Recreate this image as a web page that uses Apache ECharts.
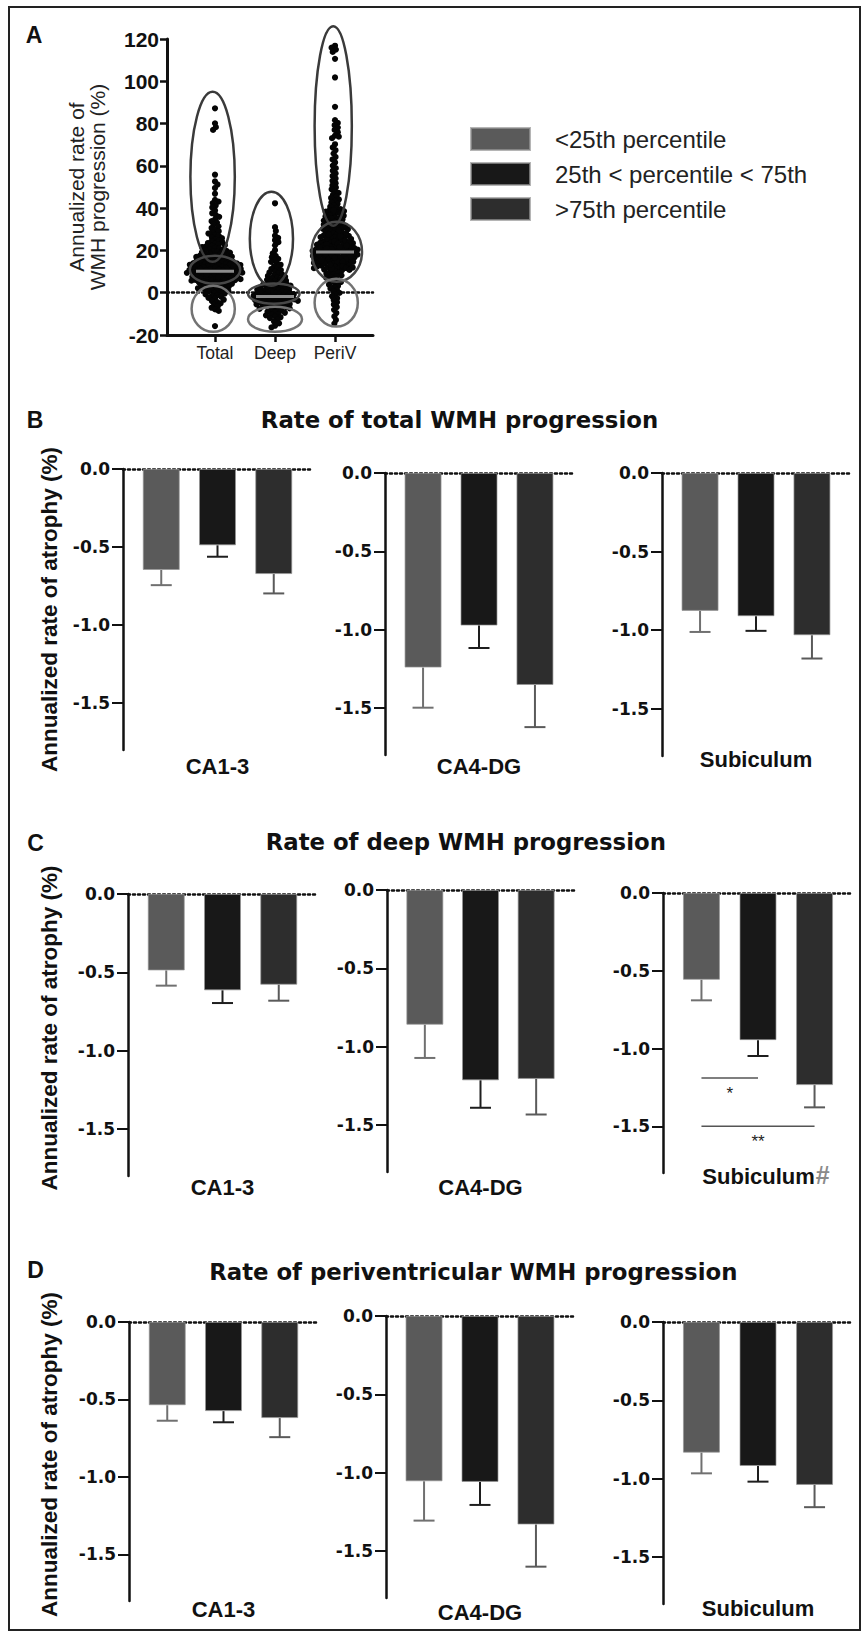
<!DOCTYPE html>
<html><head><meta charset="utf-8">
<script src="https://cdn.jsdelivr.net/npm/echarts@6/dist/echarts.min.js"></script>
<style>html,body{margin:0;padding:0;background:#fff}#c{width:863px;height:1633px}</style>
</head><body><div id="c"></div>
<script>
// ---------------- DATA ----------------
const wmhCategories = ['Total', 'Deep', 'PeriV'];
const wmhTicks = [-20, 0, 20, 40, 60, 80, 100, 120];

const totalRates = [87.2, 80.1, 78.3, 77.0, 55.8, 52.6, 51.2, 49.5, 46.8, 43.9, 43.1, 42.4, 41.2, 40.3, 38.9, 37.6, 36.8, 35.9, 34.7, 33.8, 33.1, 32.2, 31.4, 30.6, 29.8, 29.1,
  28.6, 28.0, 27.3, 26.9, 26.2, 25.8, 25.1, 24.7, 24.3, 23.9, 23.5, 23.2, 22.8, 22.5, 22.1, 21.9, 21.6, 21.2, 20.9, 20.6, 20.3, 20.1,
  19.8, 19.6, 19.3, 19.1, 18.9, 18.6, 18.4, 18.2, 17.9, 17.7, 17.5, 17.2, 17.0, 16.8, 16.6, 16.3, 16.1, 15.9, 15.7, 15.5, 15.2, 15.0,
  14.9, 14.7, 14.6, 14.4, 14.2, 14.1, 13.9, 13.7, 13.6, 13.4, 13.2, 13.1, 12.9, 12.7, 12.6, 12.4, 12.2, 12.1, 11.9, 11.8, 11.6, 11.4, 11.3, 11.1, 10.9, 10.8, 10.6, 10.5, 10.3, 10.1, 10.0,
  9.9, 9.7, 9.6, 9.4, 9.2, 9.1, 8.9, 8.8, 8.6, 8.4, 8.3, 8.1, 7.9, 7.8, 7.6, 7.5, 7.3, 7.1, 7.0, 6.8, 6.6, 6.5, 6.3, 6.1, 6.0, 5.8, 5.6, 5.5, 5.3, 5.1,
  4.9, 4.7, 4.4, 4.2, 3.9, 3.7, 3.4, 3.2, 2.9, 2.6, 2.4, 2.1, 1.8, 1.6, 1.3, 1.0, 0.8, 0.5, 0.2,
  -0.1, -0.4, -0.8, -1.1, -1.5, -1.9, -2.4, -2.8, -3.3, -3.9, -4.4, -5.0, -5.7, -6.3, -7.1, -7.9, -8.6, -15.8,
  16.9, 15.4, 14.0, 13.3, 12.5, 11.7, 11.2, 10.4, 9.5, 8.7, 7.4, 6.4, 5.7, 4.5, 3.6, 2.2];

const deepRates = [42.3, 31.0, 29.2, 27.0, 25.9, 24.8, 23.9, 22.4, 20.1, 18.6, 17.4, 16.8, 16.0, 15.3, 14.6, 13.8, 13.2, 12.5, 11.8, 11.2, 10.7, 10.1,
  9.6, 9.2, 8.7, 8.3, 7.9, 7.5, 7.1, 6.8, 6.4, 6.1, 5.7, 5.4, 5.1, 4.8, 4.5, 4.2, 3.9, 3.6, 3.8, 3.3, 3.0, 2.8, 2.6, 2.5, 2.2, 2.0, 1.7, 1.5, 1.4, 1.2, 1.0, 0.7, 0.5, 0.3, 0.2, 0.1,
  -0.1, -0.3, -0.5, -0.7, -0.9, -1.0, -1.1, -1.3, -1.5, -1.7, -1.9, -2.1, -2.2, -2.3, -2.5, -2.7, -2.9, -3.0, -3.1, -3.3, -3.5, -3.7, -3.8, -3.9,
  -4.1, -4.4, -4.5, -4.6, -4.9, -5.2, -5.3, -5.5, -5.8, -6.0, -6.1, -6.4, -6.6, -6.8, -7.2, -7.4, -7.6, -8.0, -8.2, -8.5, -9.0, -9.2, -9.5,
  -10.1, -10.4, -10.7, -11.3, -11.6, -12.0, -12.8, -13.6, -14.5, -15.6, -16.4];

const periVRates = [116.8, 115.9, 115.0, 113.9, 110.6, 101.8, 87.9, 81.6, 80.3, 79.2, 78.1, 77.0, 75.9, 74.3, 73.8, 73.1, 70.2, 68.7, 67.4, 65.8, 64.2, 63.0,
  61.6, 60.1, 58.9, 57.7, 56.4, 55.2, 54.0, 52.9, 51.8, 50.7, 49.8, 48.9, 48.0, 47.2, 46.4, 45.6, 44.8, 44.1, 43.4, 42.7, 42.0, 41.3, 40.7, 40.1,
  39.5, 38.9, 38.3, 37.8, 37.2, 36.7, 36.1, 35.6, 35.1, 34.6, 34.1, 33.6, 33.1, 32.6, 32.2, 31.7, 31.3, 30.8, 30.4, 30.0, 29.6, 29.2, 28.8, 28.4,
  28.0, 27.6, 27.2, 26.9, 26.5, 26.1, 25.8, 25.4, 25.1, 24.7, 24.4, 24.0, 23.7, 23.4, 23.0, 22.7, 22.4, 22.1, 21.8, 21.5, 21.2, 20.9, 20.6, 20.3,
  20.0, 19.7, 19.4, 19.1, 18.8, 18.5, 18.2, 17.9, 17.6, 17.3, 17.0, 16.7, 16.4, 16.1, 15.8, 15.5, 15.2, 14.9, 14.6, 14.3, 14.0, 13.7, 13.4, 13.1,
  12.8, 12.5, 12.2, 11.9, 11.6, 11.3, 11.0, 10.6, 10.2, 9.8, 9.4, 9.0, 8.6, 8.2, 7.8, 7.4, 7.0, 6.5, 6.0, 5.5, 5.0, 4.4, 3.8, 3.2, 2.6, 2.0, 1.3, 0.6,
  -0.1, -0.9, -1.7, -2.6, -3.5, -4.5, -5.6, -6.8, -8.1, -9.6, -11.2, -12.9, -14.6,
  28.2, 26.3, 24.2, 22.9, 21.0, 19.9, 18.0, 16.9, 15.0, 13.9, 12.0, 11.5,
  24.6, 23.8, 23.2, 22.2, 21.6, 20.8, 20.4, 19.8, 19.2, 18.6, 18.3, 17.7, 17.1, 16.5, 15.9, 15.3, 14.7, 14.1, 25.6, 26.7, 27.4, 13.3, 12.6, 11.7, 10.8,
  29.4, 30.6, 21.3, 19.5, 17.4, 39.0, 37.5, 36.4, 35.3, 34.3, 33.3, 32.4, 31.5, 30.2, 38.6];

const wmhMedians = [10.1, -1.8, 19.2];

// percentile ellipses: [category centre, low value, high value, half width (category units), tier]
const percentileEllipses = [
  [-0.04, 14.6, 95.0, 0.37, 0], [0.00, 4.3, 17.5, 0.42, 1], [-0.03, -18.5, 3.3, 0.36, 2],
  [0.94, 3.3, 47.8, 0.36, 0], [0.98, -5.2, 4.3, 0.43, 1], [1.00, -18.5, -6.6, 0.45, 2],
  [1.97, 31.7, 126.0, 0.31, 0], [2.03, 5.2, 33.6, 0.42, 1], [2.02, -16.0, 6.6, 0.36, 2]
];

const groupNames = ['<25th percentile', '25th < percentile < 75th', '>75th percentile'];
const regionNames = ['CA1-3', 'CA4-DG', 'Subiculum'];
const panelTitles = ['Rate of total WMH progression', 'Rate of deep WMH progression', 'Rate of periventricular WMH progression'];
const panelLetters = ['A', 'B', 'C', 'D'];
const atrophyTicks = [0, -0.5, -1.0, -1.5];

// mean annualized atrophy [region][group] and error (SEM) lengths
const totalMeans = [[-0.647, -0.489, -0.673], [-1.242, -0.974, -1.353], [-0.877, -0.911, -1.032]];
const totalErr   = [[0.097, 0.073, 0.124], [0.256, 0.143, 0.269], [0.134, 0.093, 0.148]];
const deepMeans  = [[-0.488, -0.615, -0.579], [-0.860, -1.215, -1.206], [-0.558, -0.946, -1.235]];
const deepErr    = [[0.097, 0.081, 0.102], [0.212, 0.175, 0.227], [0.132, 0.102, 0.143]];
const periMeans  = [[-0.537, -0.575, -0.620], [-1.055, -1.059, -1.331], [-0.834, -0.919, -1.040]];
const periErr    = [[0.100, 0.072, 0.123], [0.251, 0.147, 0.269], [0.132, 0.100, 0.142]];

// significance in deep / subiculum: [from group, to group, level, label]
const deepSubiculumSig = [[0, 1, -1.19, '*'], [0, 2, -1.50, '**']];

// ---------------- STYLE / LAYOUT ----------------
const FS = 'Liberation Sans';
const FD = 'DejaVu Sans';
const barColors = ['#5a5a5a', '#181818', '#2d2d2d'];
const errColors = ['#707070', '#1e1e1e', '#5a5a5a'];
const ellipseColors = ['#3a3a3a', '#474747', '#737373'];
const yTitle = 'Annualized rate of atrophy (%)';
const barLayout = [
  [{l:123,t:469,w:189,h:281,m:5,ng:62,np:[0,0,0,0]}, {l:385,t:473,w:188,h:282,m:0}, {l:662,t:473,w:188,h:283,m:-8}],
  [{l:128,t:894,w:189,h:282,m:0,ng:67,np:[0,0,0,14]}, {l:387,t:890,w:187,h:282,m:4}, {l:663,t:893,w:190,h:280,m:-11}],
  [{l:129,t:1322,w:189,h:281,m:-2,ng:68,np:[0,0,0,14]}, {l:386,t:1316,w:188,h:282,m:3}, {l:663,t:1322,w:190,h:282,m:-7}]
];
const titlePos = [[459.5, 420], [465.8, 842], [473.3, 1272]];
const letterPos = [[34, 35], [35, 420], [35.5, 843], [35.5, 1270]];
const zeroDash = [2, 3];

// ---------------- BUILD ----------------
const chart = echarts.init(document.getElementById('c'), null, {renderer: 'svg', width: 863, height: 1633});
const grids = [], xAxes = [], yAxes = [], series = [], titles = [];

// Panel A
grids.push({left:167, top:39, width:206, height:296});
xAxes.push({gridIndex:0, type:'value', min:-0.8, max:2.633, position:'bottom',
  axisLine:{show:true, onZero:false, lineStyle:{color:'#111', width:3}},
  axisTick:{show:true, customValues:[0,1,2], length:7, lineStyle:{color:'#111', width:2.5}},
  axisLabel:{show:true, customValues:[0,1,2], formatter:v => wmhCategories[Math.round(v)], margin:9, fontFamily:FS, fontSize:17.5, color:'#222'},
  splitLine:{show:false}});
xAxes.push({gridIndex:0, type:'value', min:-0.8, max:2.633, position:'top',
  axisLine:{show:true, onZero:true, lineStyle:{color:'#111', width:2.5, type:zeroDash}},
  axisTick:{show:false}, axisLabel:{show:false}, splitLine:{show:false}});
yAxes.push({gridIndex:0, type:'value', min:-20, max:120, interval:20,
  axisLine:{show:true, onZero:false, lineStyle:{color:'#111', width:3}},
  axisTick:{show:true, length:7, lineStyle:{color:'#111', width:2.5}},
  axisLabel:{fontFamily:FS, fontWeight:'bold', fontSize:21, color:'#111', margin:8},
  splitLine:{show:false},
  name:'Annualized rate of\nWMH progression (%)', nameLocation:'middle', nameRotate:90, nameGap:59,
  nameTextStyle:{fontFamily:FS, fontSize:21, lineHeight:21, color:'#222'}});

const dotData = [];
[totalRates, deepRates, periVRates].forEach((arr, g) => arr.forEach(v => dotData.push([g, v, 0])));
series.push({type:'custom', id:'wmhDots', xAxisIndex:0, yAxisIndex:0, data:dotData, z:2, clip:false,
  renderItem:(p, api) => {
    const c = api.coord([api.value(0), api.value(1)]);
    return {type:'circle', shape:{cx:c[0] + api.value(2), cy:c[1], r:3.1}, style:{fill:'#050505'}};
  }});
series.push({type:'custom', xAxisIndex:0, yAxisIndex:0, data:percentileEllipses, z:4, clip:false,
  renderItem:(p, api) => {
    const e = percentileEllipses[p.dataIndex];
    const top = api.coord([e[0], e[2]]), bot = api.coord([e[0], e[1]]);
    const rx = api.size([e[3], 0])[0];
    return {type:'ellipse', shape:{cx:top[0], cy:(top[1] + bot[1]) / 2, rx:rx, ry:(bot[1] - top[1]) / 2},
      style:{fill:'none', stroke:ellipseColors[e[4]], lineWidth:2.5}};
  }});
series.push({type:'custom', xAxisIndex:0, yAxisIndex:0, data:wmhMedians.map((m, g) => [g, m]), z:5, clip:false,
  renderItem:(p, api) => {
    const c = api.coord([api.value(0), api.value(1)]);
    return {type:'line', shape:{x1:c[0] - 19, y1:c[1], x2:c[0] + 19, y2:c[1]}, style:{stroke:'#8c8c8c', lineWidth:3}};
  }});

function errRender(params, api) {
  const x = api.value(0), m = api.value(1), e = api.value(2), g = api.value(3);
  const a = api.coord([x, m]), b = api.coord([x, m - e]);
  const col = errColors[g];
  return {type:'group', children:[
    {type:'line', shape:{x1:a[0], y1:a[1], x2:b[0], y2:b[1]}, style:{stroke:col, lineWidth:2}},
    {type:'line', shape:{x1:b[0] - 10.5, y1:b[1], x2:b[0] + 10.5, y2:b[1]}, style:{stroke:col, lineWidth:2}}
  ]};
}

const barPanels = [{means:totalMeans, errs:totalErr}, {means:deepMeans, errs:deepErr}, {means:periMeans, errs:periErr}];
barPanels.forEach((p, r) => {
  regionNames.forEach((reg, s) => {
    const L = barLayout[r][s];
    const gi = grids.length;
    grids.push({left:L.l, top:L.t, width:L.w, height:L.h});
    const xv = xAxes.length;
    xAxes.push({gridIndex:gi, type:'value', min:-0.68, max:2.68, position:'top',
      axisLine:{show:true, onZero:true, lineStyle:{color:'#111', width:2.5, type:zeroDash}},
      axisTick:{show:false}, axisLabel:{show:false}, splitLine:{show:false}});
    const isHash = (r === 1 && s === 2);
    const lab = {show:true, interval:0, margin:L.m, fontFamily:FS, fontWeight:'bold', fontSize:22, lineHeight:22, color:'#111'};
    if (isHash) {
      lab.formatter = v => '{n|' + v + '}{h|#}';
      lab.rich = {
        n:{fontFamily:FS, fontWeight:'bold', fontSize:22, lineHeight:22, color:'#111', padding:[0,0,0,16], verticalAlign:'bottom'},
        h:{fontFamily:FS, fontSize:25, lineHeight:25, color:'#8a8a8a', padding:[0,0,8,1], verticalAlign:'top'}
      };
    }
    xAxes.push({gridIndex:gi, type:'category', position:'bottom', data:[reg],
      axisLine:{show:false, onZero:false}, axisTick:{show:false}, axisLabel:lab, splitLine:{show:false}});
    const yi = yAxes.length;
    const ya = {gridIndex:gi, type:'value', min:-1.8, max:0, position:'left',
      axisLine:{show:true, onZero:false, lineStyle:{color:'#111', width:2.5}},
      axisTick:{show:true, customValues:atrophyTicks, length:11, lineStyle:{color:'#111', width:2}},
      axisLabel:{show:true, customValues:atrophyTicks, formatter:v => v.toFixed(1), margin:13, fontFamily:FD, fontWeight:'bold', fontSize:17, color:'#111'},
      splitLine:{show:false}};
    if (s === 0) {
      Object.assign(ya, {name:yTitle, nameLocation:'middle', nameRotate:90, nameGap:L.ng,
        nameTextStyle:{fontFamily:FS, fontWeight:'bold', fontSize:22.5, lineHeight:22.5, color:'#111', padding:L.np}});
    }
    yAxes.push(ya);
    groupNames.forEach((g, k) => series.push({type:'bar', name:g, xAxisIndex:xv, yAxisIndex:yi,
      data:[[k, p.means[s][k]]], barWidth:37, barGap:'-100%', z:2,
      itemStyle:{color:barColors[k], borderColor:'rgba(150,150,150,0.7)', borderWidth:1}}));
    series.push({type:'custom', xAxisIndex:xv, yAxisIndex:yi, z:3, clip:false,
      data:groupNames.map((g, k) => [k, p.means[s][k], p.errs[s][k], k]), renderItem:errRender});
    if (isHash) {
      series.push({type:'custom', xAxisIndex:xv, yAxisIndex:yi, z:3, clip:false,
        data:deepSubiculumSig.map(d => [d[0], d[1], d[2]]),
        renderItem:(pp, api) => {
          const d = deepSubiculumSig[pp.dataIndex];
          const a = api.coord([d[0], d[2]]), b = api.coord([d[1], d[2]]);
          return {type:'group', children:[
            {type:'line', shape:{x1:a[0], y1:a[1], x2:b[0], y2:b[1]}, style:{stroke:'#555', lineWidth:1.5}},
            {type:'text', x:(a[0] + b[0]) / 2, y:a[1] + 7, style:{text:d[3], fontFamily:FS, fontSize:17, fill:'#222', align:'center', verticalAlign:'top'}}
          ]};
        }});
    }
  });
});

panelLetters.forEach((t, i) => titles.push({text:t, left:letterPos[i][0], top:letterPos[i][1] - 11.5, textAlign:'center', padding:0,
  textStyle:{fontFamily:FS, fontWeight:'bold', fontSize:23, lineHeight:23, color:'#111'}}));
panelTitles.forEach((t, i) => titles.push({text:t, left:titlePos[i][0], top:titlePos[i][1] - 11.5, textAlign:'center', padding:0,
  textStyle:{fontFamily:FD, fontWeight:'bold', fontSize:22.8, lineHeight:23, color:'#111'}}));

const option = {
  animation:false,
  backgroundColor:'#fff',
  title:titles,
  grid:grids, xAxis:xAxes, yAxis:yAxes, series:series,
  legend:{data:groupNames, left:470, top:127, orient:'vertical', itemWidth:59, itemHeight:22, itemGap:11, icon:'rect',
    padding:0, selectedMode:false,
    textStyle:{fontFamily:FS, fontSize:24, lineHeight:22, color:'#222', padding:[0,0,0,20]}},
  graphic:[{type:'rect', silent:true, z:100, shape:{x:9, y:7, width:851, height:1623}, style:{fill:'none', stroke:'#222', lineWidth:2}}]
};
chart.setOption(option);

// beeswarm layout of dots (pixel offsets computed from the rendered scale)
function swarm(ys, d) {
  const idx = ys.map((y, i) => i).sort((a, b) => ys[a] - ys[b]);
  const placed = [], off = new Array(ys.length);
  idx.forEach((i, k) => {
    const y = ys[i];
    const forb = [];
    for (const p of placed) {
      const dy = Math.abs(p.y - y);
      if (dy < d) { const dx = Math.sqrt(d * d - dy * dy); forb.push([p.x - dx, p.x + dx]); }
    }
    const cands = [0];
    forb.forEach(f => cands.push(f[0], f[1]));
    cands.sort((a, b) => (Math.abs(a) - Math.abs(b)) || (k % 2 ? a - b : b - a));
    let x = 0;
    for (const c of cands) {
      if (!forb.some(f => c > f[0] + 1e-6 && c < f[1] - 1e-6)) { x = c; break; }
    }
    placed.push({x:x, y:y}); off[i] = x;
  });
  return off;
}
function toPixY(v) {
  try { const p = chart.convertToPixel({xAxisIndex:0, yAxisIndex:0}, [0, v]); if (p && isFinite(p[1])) return p[1]; } catch (e) {}
  return 39 + (120 - v) / 140 * 296;
}
const swarmData = [];
[totalRates, deepRates, periVRates].forEach((arr, g) => {
  const ys = arr.map(toPixY);
  const off = swarm(ys, 3.9);
  arr.forEach((v, i) => swarmData.push([g, v, off[i]]));
});
chart.setOption({series:[{id:'wmhDots', data:swarmData}]});
</script>
</body></html>
